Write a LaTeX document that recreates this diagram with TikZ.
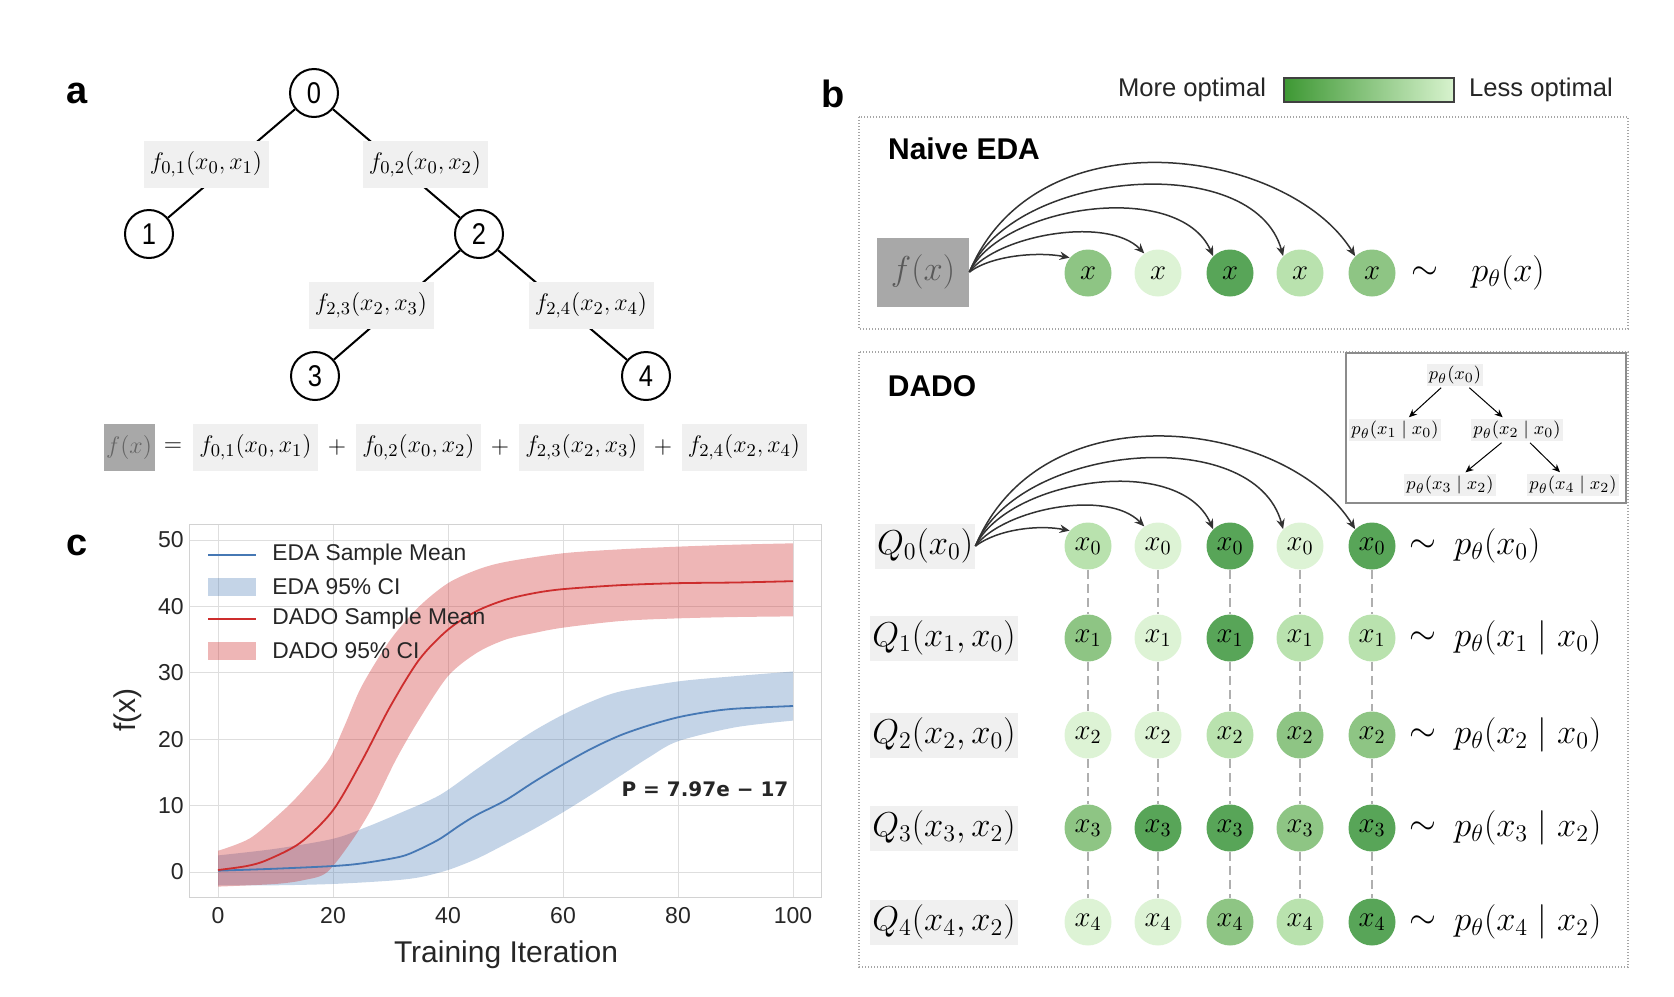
\documentclass[tikz,border=0pt]{standalone}
\usepackage{fontspec}
\setsansfont{Liberation Sans}
\newfontfamily\narrowsf[FakeStretch=0.85]{Liberation Sans}
\newfontfamily\dvsans{DejaVu Sans}
\usetikzlibrary{arrows.meta}
\definecolor{lgray}{RGB}{240,240,240}
\definecolor{ggray}{RGB}{168,168,168}
\definecolor{GA}{RGB}{88,165,88}
\definecolor{GB}{RGB}{142,197,132}
\definecolor{GC}{RGB}{185,226,174}
\definecolor{GD}{RGB}{221,243,213}
\definecolor{gradL}{RGB}{62,152,52}
\definecolor{gradR}{RGB}{216,243,206}
\definecolor{arrc}{RGB}{50,50,50}
\definecolor{dotc}{RGB}{165,165,165}
\definecolor{dashc}{RGB}{175,175,175}
\definecolor{gridc}{RGB}{222,222,222}
\definecolor{framec}{RGB}{210,210,210}
\definecolor{redl}{RGB}{205,45,45}
\definecolor{bluel}{RGB}{70,120,180}
\definecolor{txtc}{RGB}{38,38,38}
\begin{document}
\begin{tikzpicture}[x=0.5pt,y=-0.5pt,
  lab/.style={font=\sffamily\bfseries\fontsize{19}{22}\selectfont},
  circ/.style={circle,draw,line width=1pt,minimum size=24pt,inner sep=0pt,fill=white,font=\narrowsf\fontsize{15}{18}\selectfont},
  flab/.style={fill=lgray,minimum height=23.5pt,minimum width=62.5pt,inner sep=0.5pt,font=\fontsize{13.2}{16}\selectfont},
  op/.style={font=\fontsize{13.2}{16}\selectfont,inner sep=0pt},
  tedge/.style={line width=1pt},
  gn/.style={circle,minimum size=23.5pt,inner sep=0pt,font=\fontsize{14}{16}\selectfont},
  qlab/.style={fill=lgray,minimum height=22.5pt,inner sep=1pt,font=\fontsize{16.5}{19}\selectfont},
  rt/.style={anchor=west,inner sep=0pt,font=\fontsize{17.8}{20}\selectfont},
  tl/.style={inner sep=0pt,font=\fontsize{17.6}{20}\selectfont},
  arcarr/.style={draw=arrc,line width=0.75pt,-{Stealth[length=5pt,width=4.2pt]}},
  dotbox/.style={draw=dotc,line width=0.6pt,dash pattern=on 0.6pt off 0.9pt},
  vdash/.style={draw=dashc,line width=0.7pt,dash pattern=on 4.5pt off 2.5pt},
  ilab/.style={fill=lgray,inner sep=1pt,font=\fontsize{9.5}{11}\selectfont},
  iarr/.style={draw=black,line width=0.5pt,shorten <=1pt,shorten >=1pt,-{Stealth[length=4pt,width=3.5pt]}},
  tick/.style={inner sep=0pt,text=txtc,font=\sffamily\fontsize{11.5}{13}\selectfont},
  leg/.style={anchor=west,inner sep=0pt,text=txtc,font=\sffamily\fontsize{11.4}{13}\selectfont},
  scaletxt/.style={text=txtc,font=\sffamily\fontsize{12.8}{15}\selectfont},
]
\useasboundingbox (0,0) rectangle (1674,996);

% ---------------- panel a ----------------
\node[lab] (la) at (77,93) {a};
\node[circ] (t0) at (314,93) {0};
\node[circ] (t1) at (149,234) {1};
\node[circ] (t2) at (479,234) {2};
\node[circ] (t3) at (315,376) {3};
\node[circ] (t4) at (646,376) {4};
\draw[tedge] (t0) -- (t1);
\draw[tedge] (t0) -- (t2);
\draw[tedge] (t2) -- (t3);
\draw[tedge] (t2) -- (t4);
\node[flab] (f01) at (206,164) {$f_{0,1}(x_0,x_1)$};
\node[flab] (f02) at (425,164) {$f_{0,2}(x_0,x_2)$};
\node[flab] (f23) at (371,305) {$f_{2,3}(x_2,x_3)$};
\node[flab] (f24) at (591,305) {$f_{2,4}(x_2,x_4)$};

\node[fill=ggray,minimum width=25.5pt,minimum height=23.5pt,inner sep=0pt,text=black!60,font=\fontsize{13.2}{16}\selectfont] (efx) at (129,447) {$f(x)$};
\node[op] (eeq) at (173,447) {$=$};
\node[flab] (e1) at (255.5,447) {$f_{0,1}(x_0,x_1)$};
\node[op] (ep1) at (337,447) {$+$};
\node[flab] (e2) at (418.5,447) {$f_{0,2}(x_0,x_2)$};
\node[op] (ep2) at (500,447) {$+$};
\node[flab] (e3) at (581.5,447) {$f_{2,3}(x_2,x_3)$};
\node[op] (ep3) at (663,447) {$+$};
\node[flab] (e4) at (744,447) {$f_{2,4}(x_2,x_4)$};

% ---------------- panel b ----------------
\node[lab] (lb) at (833,94) {b};
\node[scaletxt] (mo) at (1192,90) {More optimal};
\node[draw=black!75,line width=0.6pt,minimum width=85pt,minimum height=12pt,inner sep=0pt,left color=gradL,right color=gradR] (grad) at (1369,90) {};
\node[scaletxt] (lo) at (1541,90) {Less optimal};

% Naive EDA
\draw[dotbox] (859,117) rectangle (1628,329);
\node[font=\sffamily\bfseries\fontsize{15}{18}\selectfont] (ntitle) at (964,149) {Naive EDA};
\node[fill=ggray,minimum width=46pt,minimum height=34.5pt,inner sep=0pt,text=black!65,font=\fontsize{16.5}{19}\selectfont] (fx) at (923,272) {$f(x)$};
\foreach \c/\x/\col in {1/1088/GB,2/1158/GD,3/1230/GA,4/1300/GC,5/1372/GB}
  \node[gn,fill=\col] (a\c) at (\x,273) {$x$};
\node[tl] (ntil) at (1425,273) {$\sim$};
\node[rt] (np) at (1471,273) {$p_\theta(x)$};
\draw[arcarr] (fx.east) .. controls +(23,-17) and +(-31,-6) .. (a1.140);
\draw[arcarr] (fx.east) .. controls +(28,-37) and +(-37,-38) .. (a2.125);
\draw[arcarr] (fx.east) .. controls +(33,-67) and +(-34,-77) .. (a3.135);
\draw[arcarr] (fx.east) .. controls +(43,-102) and +(-29,-107) .. (a4.135);
\draw[arcarr] (fx.east) .. controls +(68,-162) and +(-66,-107) .. (a5.135);

% DADO
\draw[dotbox] (859,352) rectangle (1628,967);
\node[font=\sffamily\bfseries\fontsize{15}{18}\selectfont] (dtitle) at (932,386) {DADO};
\node[draw=black!45,line width=0.75pt,fill=white,minimum width=140pt,minimum height=75pt,inner sep=0pt] (inset) at (1486,428) {};
\node[ilab] (p0) at (1455,375) {$p_\theta(x_0)$};
\node[ilab] (p1) at (1395,430) {$p_\theta(x_1\mid x_0)$};
\node[ilab] (p2) at (1517,430) {$p_\theta(x_2\mid x_0)$};
\node[ilab] (p3) at (1450,485) {$p_\theta(x_3\mid x_2)$};
\node[ilab] (p4) at (1573,485) {$p_\theta(x_4\mid x_2)$};
\draw[iarr] (p0) -- (p1);
\draw[iarr] (p0) -- (p2);
\draw[iarr] (p2) -- (p3);
\draw[iarr] (p2) -- (p4);

\node[qlab] (Q0) at (925,546) {$Q_0(x_0)$};
\node[qlab] (Q1) at (944,638) {$Q_1(x_1,x_0)$};
\node[qlab] (Q2) at (944,735) {$Q_2(x_2,x_0)$};
\node[qlab] (Q3) at (944,828) {$Q_3(x_3,x_2)$};
\node[qlab] (Q4) at (944,922) {$Q_4(x_4,x_2)$};

\foreach \c/\x/\col in {1/1088/GC,2/1158/GD,3/1230/GA,4/1300/GD,5/1372/GA}
  \node[gn,fill=\col] (d0\c) at (\x,546) {$x_0$};
\foreach \c/\x/\col in {1/1088/GB,2/1158/GD,3/1230/GA,4/1300/GC,5/1372/GC}
  \node[gn,fill=\col] (d1\c) at (\x,638) {$x_1$};
\foreach \c/\x/\col in {1/1088/GD,2/1158/GD,3/1230/GC,4/1300/GB,5/1372/GB}
  \node[gn,fill=\col] (d2\c) at (\x,735) {$x_2$};
\foreach \c/\x/\col in {1/1088/GB,2/1158/GA,3/1230/GA,4/1300/GB,5/1372/GA}
  \node[gn,fill=\col] (d3\c) at (\x,828) {$x_3$};
\foreach \c/\x/\col in {1/1088/GD,2/1158/GD,3/1230/GB,4/1300/GC,5/1372/GA}
  \node[gn,fill=\col] (d4\c) at (\x,922) {$x_4$};
\foreach \c in {1,...,5}
  \foreach \r/\s in {0/1,1/2,2/3,3/4}
    \draw[vdash] (d\r\c.south) -- (d\s\c.north);

\draw[arcarr] (Q0.east) .. controls +(23,-17) and +(-31,-6) .. (d01.140);
\draw[arcarr] (Q0.east) .. controls +(28,-37) and +(-37,-38) .. (d02.125);
\draw[arcarr] (Q0.east) .. controls +(33,-67) and +(-34,-77) .. (d03.135);
\draw[arcarr] (Q0.east) .. controls +(43,-102) and +(-29,-107) .. (d04.135);
\draw[arcarr] (Q0.east) .. controls +(68,-162) and +(-66,-107) .. (d05.135);

\foreach \r/\y/\t in {0/546/{p_\theta(x_0)},1/638/{p_\theta(x_1\mid x_0)},2/735/{p_\theta(x_2\mid x_0)},3/828/{p_\theta(x_3\mid x_2)},4/922/{p_\theta(x_4\mid x_2)}}{
  \node[tl] (til\r) at (1423,\y) {$\sim$};
  \node[rt] (rp\r) at (1454,\y) {$\t$};
}

% ---------------- panel c ----------------
\node[lab] (lc) at (77,545) {c};
\begin{scope}[shift={(218,872)},x=2.875pt,y=3.32pt]
  \foreach \v in {0,20,...,100} \draw[gridc,line width=0.5pt] (\v,-3.8) -- (\v,52.3);
  \foreach \v in {0,10,...,50} \draw[gridc,line width=0.5pt] (-5,\v) -- (105,\v);
  \draw[framec,line width=0.6pt] (-5,-3.8) rectangle (105,52.3);
  % EDA band
  \fill[bluel,fill opacity=0.32]
    plot[smooth] coordinates {(0,2.5) (10,3.5) (20,5) (25.9,6.8) (31.7,8.9) (38.6,11.6) (45,15.5) (50,18.5) (55,21.3) (60,23.7) (65,25.7) (70,27.2) (80,28.7) (90,29.5) (100,30.2)}
    -- plot[smooth] coordinates {(100,22.8) (90,21.8) (80,19.7) (75,17.3) (70,14.5) (65,11.7) (60,9) (55,6.5) (50,4.2) (45,2) (40,0.3) (35,-0.8) (30,-1.3) (20,-1.8) (10,-2) (0,-2)} -- cycle;
  % DADO band
  \fill[redl,fill opacity=0.35]
    plot[smooth] coordinates {(0,3.2) (5.6,5.1) (11.4,9.3) (15,12.5) (19.3,17) (22,22) (25,28) (30,35) (35,40) (40,43.5) (45,45.5) (50,46.7) (60,48) (70,48.6) (80,49) (90,49.3) (100,49.5)}
    -- plot[smooth] coordinates {(100,38.5) (90,38.4) (80,38.2) (70,37.8) (60,36.8) (55,36) (50,35) (45,33) (40,29.5) (35,23) (31,17) (27,10) (23.5,5) (19,0) (15,-1.2) (10,-1.8) (0,-2.2)} -- cycle;
  \draw[bluel,line width=0.9pt] plot[smooth] coordinates {(0,0.2) (10,0.5) (20,0.9) (25,1.3) (31.7,2.3) (35,3.4) (38.6,5) (42,7) (45,8.6) (50,10.8) (55,13.6) (60,16.2) (65,18.6) (70,20.6) (75,22.1) (80,23.3) (85,24.1) (90,24.6) (100,25)};
  \draw[redl,line width=0.9pt] plot[smooth] coordinates {(0,0.3) (5,0.9) (8.5,1.8) (14.3,4.4) (20,9.3) (25,16.7) (30,25) (35,32) (40,36.5) (45,39.3) (50,41) (55,42) (60,42.6) (70,43.2) (80,43.5) (90,43.6) (100,43.8)};
  \foreach \v in {0,10,...,50} \node[tick,anchor=east] at (-5.9,\v) {\v};
  \foreach \v in {0,20,...,100} \node[tick] at (\v,-6.6) {\v};
\end{scope}
\node[rotate=90,text=txtc,font=\sffamily\fontsize{15}{18}\selectfont] (ylab) at (128,710) {f(x)};
\node[text=txtc,font=\sffamily\fontsize{15}{18}\selectfont] (xlab) at (506,955) {Training Iteration};
\node[text=txtc,font=\dvsans\bfseries\fontsize{10}{12}\selectfont] (pv) at (705,789) {P = 7.97e − 17};
% legend
\coordinate (l1a) at (208,555); \coordinate (l1b) at (256,555);
\draw[bluel,line width=0.9pt] (l1a) -- (l1b);
\node[leg] (lt1) at (272,555) {EDA Sample Mean};
\fill[bluel,fill opacity=0.32] (208,578) rectangle (256,596);
\node[leg] (lt2) at (272,587) {EDA 95\% CI};
\coordinate (l3a) at (208,619); \coordinate (l3b) at (256,619);
\draw[redl,line width=0.9pt] (l3a) -- (l3b);
\node[leg] (lt3) at (272,619) {DADO Sample Mean};
\fill[redl,fill opacity=0.35] (208,642) rectangle (256,660);
\node[leg] (lt4) at (272,651) {DADO 95\% CI};
\end{tikzpicture}
\end{document}
